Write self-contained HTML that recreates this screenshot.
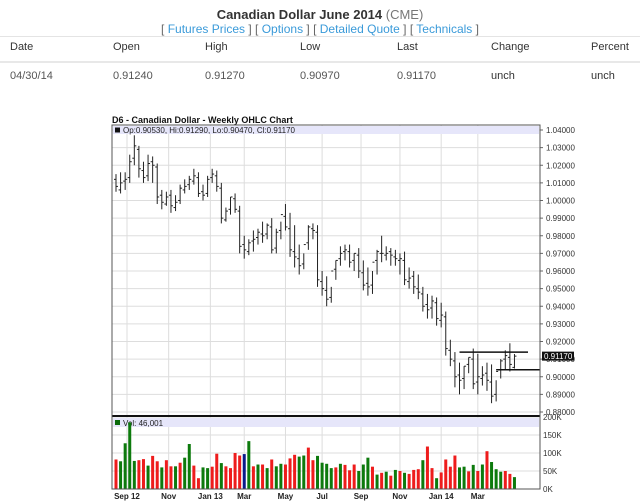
<!DOCTYPE html>
<html><head><meta charset="utf-8"><style>
body{margin:0;width:640px;height:503px;background:#fff;font-family:"Liberation Sans",sans-serif;position:relative;overflow:hidden}
.t{position:absolute;white-space:nowrap}
a{color:#3a9ad9;text-decoration:none}
.th{position:absolute;top:41px;font-size:11px;color:#333}
.td{position:absolute;top:70px;font-size:11px;color:#555}
</style></head><body>
<div class="t" style="left:0;width:640px;text-align:center;top:7px;font-size:13px;color:#333"><b>Canadian Dollar June 2014</b> <span style="color:#777">(CME)</span></div>
<div class="t" style="left:0;width:640px;text-align:center;top:22px;font-size:12px;color:#666">[ <a>Futures Prices</a> ] [ <a>Options</a> ] [ <a>Detailed Quote</a> ] [ <a>Technicals</a> ]</div>
<div style="position:absolute;left:0;top:36px;width:640px;height:1px;background:#e4e4e4"></div>
<div style="position:absolute;left:0;top:61px;width:640px;height:2px;background:#e8e8e8"></div>
<div class="th" style="left:10px">Date</div>
<div class="th" style="left:113px">Open</div>
<div class="th" style="left:205px">High</div>
<div class="th" style="left:300px">Low</div>
<div class="th" style="left:397px">Last</div>
<div class="th" style="left:491px">Change</div>
<div class="th" style="left:591px">Percent</div>
<div class="td" style="left:10px">04/30/14</div>
<div class="td" style="left:113px">0.91240</div>
<div class="td" style="left:205px">0.91270</div>
<div class="td" style="left:300px">0.90970</div>
<div class="td" style="left:397px">0.91170</div>
<div class="td" style="left:491px;color:#333">unch</div>
<div class="td" style="left:591px;color:#333">unch</div>
<svg id="chart" width="640" height="503" style="position:absolute;left:0;top:0" font-family="Liberation Sans, sans-serif"></svg>
<script>
const closes=[1.008,1.010,1.012,1.022,1.031,1.018,1.013,1.021,1.020,1.002,0.999,1.002,0.997,0.999,1.007,1.008,1.012,1.014,1.004,1.003,1.012,1.015,1.008,0.990,0.994,1.002,0.995,0.974,0.972,0.976,0.978,0.982,0.980,0.986,0.972,0.982,0.992,0.985,0.972,0.968,0.963,0.975,0.985,0.983,0.955,0.950,0.944,0.960,0.966,0.970,0.972,0.965,0.970,0.960,0.952,0.951,0.965,0.971,0.970,0.970,0.969,0.967,0.967,0.955,0.956,0.951,0.948,0.940,0.938,0.943,0.933,0.935,0.916,0.910,0.900,0.898,0.906,0.911,0.896,0.900,0.901,0.898,0.889,0.903,0.909,0.912,0.907,0.9117];
const opens=[1.012,1.006,1.011,1.013,1.024,1.029,1.017,1.014,1.022,1.019,1.003,0.998,1.003,0.996,1.000,1.006,1.009,1.011,1.013,1.005,1.004,1.013,1.014,1.007,0.989,0.995,1.001,0.994,0.975,0.971,0.977,0.979,0.981,0.981,0.985,0.973,0.983,0.991,0.984,0.971,0.967,0.964,0.976,0.984,0.982,0.954,0.949,0.945,0.961,0.967,0.971,0.971,0.966,0.969,0.959,0.953,0.952,0.966,0.970,0.969,0.971,0.968,0.966,0.966,0.954,0.957,0.950,0.947,0.941,0.939,0.942,0.932,0.934,0.915,0.909,0.901,0.899,0.907,0.910,0.897,0.899,0.902,0.897,0.890,0.904,0.910,0.911,0.9053];
const highs=[1.015,1.016,1.016,1.026,1.037,1.031,1.022,1.026,1.025,1.021,1.006,1.005,1.006,1.003,1.009,1.012,1.014,1.018,1.016,1.009,1.014,1.018,1.017,1.010,0.996,1.002,1.004,0.997,0.980,0.978,0.983,0.984,0.988,0.987,0.990,0.984,0.988,0.998,0.993,0.986,0.975,0.970,0.986,0.987,0.986,0.960,0.957,0.951,0.966,0.974,0.975,0.975,0.970,0.973,0.966,0.962,0.960,0.972,0.980,0.974,0.973,0.972,0.970,0.971,0.962,0.960,0.958,0.951,0.947,0.946,0.945,0.942,0.937,0.921,0.914,0.908,0.906,0.911,0.916,0.913,0.906,0.908,0.907,0.898,0.910,0.915,0.919,0.9129];
const lows=[1.005,1.004,1.006,1.010,1.020,1.013,1.010,1.011,1.010,0.998,0.995,0.997,0.993,0.994,0.998,1.004,1.006,1.009,1.002,1.000,1.002,1.010,1.005,0.987,0.988,0.992,0.993,0.970,0.967,0.969,0.971,0.975,0.976,0.978,0.970,0.970,0.978,0.983,0.968,0.962,0.958,0.961,0.972,0.978,0.951,0.946,0.940,0.942,0.955,0.963,0.966,0.962,0.960,0.956,0.949,0.946,0.947,0.958,0.965,0.966,0.963,0.963,0.958,0.952,0.950,0.947,0.944,0.937,0.933,0.933,0.929,0.928,0.912,0.906,0.894,0.890,0.893,0.902,0.893,0.890,0.895,0.892,0.885,0.886,0.899,0.904,0.903,0.9047];
const volumes=[82,77,127,185,78,80,83,65,92,77,60,80,63,63,73,87,125,65,30,60,58,62,98,72,63,58,100,93,97,133,63,68,68,58,82,63,70,68,85,95,90,93,115,80,92,73,70,58,60,70,67,52,68,50,68,87,62,40,45,48,37,53,50,45,42,53,55,80,118,58,30,46,82,62,93,60,62,49,67,50,68,105,75,55,48,50,42,33,45];
const volDir="rggggrrgrrgrrgrggrrggrrgrrrrbgrgrgrggrrrggrrggggrgrrrgggrgrgrgrgrrrgrrgrrrrggrgrgrgggrrg";
const priceTicks=[1.04,1.03,1.02,1.01,1.00,0.99,0.98,0.97,0.96,0.95,0.94,0.93,0.92,0.91,0.90,0.89,0.88];
const volTicks=[200,150,100,50,0];
const monthLabels=["Sep 12","Nov","Jan 13","Mar","May","Jul","Sep","Nov","Jan 14","Mar"];
const monthIdx=[2.4,11.5,20.6,28,37,45,53.5,62,71,79];
const lastPrice=0.9117;
const resistance=0.9140, support=0.9040;

const L=112,R=540,PT=125,PB=416,VB=489;
const NS='http://www.w3.org/2000/svg';
const svg=document.getElementById('chart');
const px=i=>116+i*4.58;
const py=p=>130+(1.04-p)/0.16*282;
const vy=v=>VB-v/200*72;
function el(t,a,parent){const e=document.createElementNS(NS,t);for(const k in a)e.setAttribute(k,a[k]);(parent||svg).appendChild(e);return e;}
function txt(s,a){const e=el('text',a);e.textContent=s;return e;}

const t=txt('D6 - Canadian Dollar - Weekly OHLC Chart',{x:112,y:123,'font-size':9,'font-weight':'bold',fill:'#111'});


el('rect',{x:L,y:PT,width:R-L,height:VB-PT,fill:'#fff',stroke:'#666'});
// grid
priceTicks.forEach(p=>{
  const g=el('line',{x1:L,x2:R,y1:py(p),y2:py(p),stroke:'#ddd'});
  
  
  const lb=txt(p.toFixed(5),{x:546,y:py(p)+3,'font-size':8,fill:'#333'});
  
  
  el('line',{x1:R,x2:R+3,y1:py(p),y2:py(p),stroke:'#666'});
});
volTicks.forEach(v=>{
  const g=el('line',{x1:L,x2:R,y1:vy(v),y2:vy(v),stroke:'#ddd'});
  
  
  const lb=txt(v+'K',{x:543,y:vy(v)+3,'font-size':8,fill:'#333'});
  
  
});
monthIdx.forEach((m,i)=>{
  const x=px(m);
  const g=el('line',{x1:x,x2:x,y1:PT,y2:VB,stroke:'#ddd'});
  
  
  const lb=txt(monthLabels[i],{x:x,y:499,'font-size':8,'font-weight':'bold','text-anchor':'middle',fill:'#222'});
  
  
});
// legend bands
el('rect',{x:L+1,y:PT+1,width:R-L-2,height:8,fill:'#e6e6fa'});
el('rect',{x:115,y:127.5,width:5,height:5,fill:'#111'});
const lg=txt('Op:0.90530, Hi:0.91290, Lo:0.90470, Cl:0.91170',{x:123,y:133,'font-size':8,fill:'#222'});


el('rect',{x:L+1,y:PB+2,width:R-L-2,height:9,fill:'#e6e6fa'});
el('rect',{x:115,y:420,width:5,height:5,fill:'#0a6a0a'});
const vl=txt('Vol: 46,001',{x:123,y:426,'font-size':8,fill:'#222'});


// OHLC bars
const n=Math.min(closes.length,opens.length,highs.length,lows.length);
for(let i=0;i<n;i++){
  const x=px(i),g=el('g',{stroke:'#222','stroke-width':1});
  
  
  el('line',{x1:x,x2:x,y1:py(highs[i]),y2:py(lows[i])},g);
  el('line',{x1:x-2,x2:x,y1:py(opens[i]),y2:py(opens[i])},g);
  el('line',{x1:x,x2:x+2,y1:py(closes[i]),y2:py(closes[i])},g);
}
// S/R lines
const r1=el('line',{x1:px(75),x2:528,y1:py(resistance),y2:py(resistance),stroke:'#111','stroke-width':1.5});


const s1=el('line',{x1:px(83),x2:R,y1:py(support),y2:py(support),stroke:'#111','stroke-width':1.5});


el('rect',{x:R+2,y:py(lastPrice)-4.5,width:32,height:9,fill:'#111'});
const lp=txt(lastPrice.toFixed(5),{x:544,y:py(lastPrice)+3,'font-size':8,fill:'#fff'});


// volume
const cols={r:'#ee1c1c',g:'#0d7a0d',b:'#0a1a8a'};
for(let i=0;i<volumes.length&&i<88;i++){
  const b=el('rect',{x:px(i)-1.5,y:vy(volumes[i]),width:3,height:VB-vy(volumes[i]),fill:cols[volDir[i]]||'#0d7a0d'});
  
  
}
el('line',{x1:L,x2:R,y1:PB,y2:PB,stroke:'#111','stroke-width':2});
el('rect',{x:L,y:PT,width:R-L,height:VB-PT,fill:'none',stroke:'#555'});
</script>
</body></html>
